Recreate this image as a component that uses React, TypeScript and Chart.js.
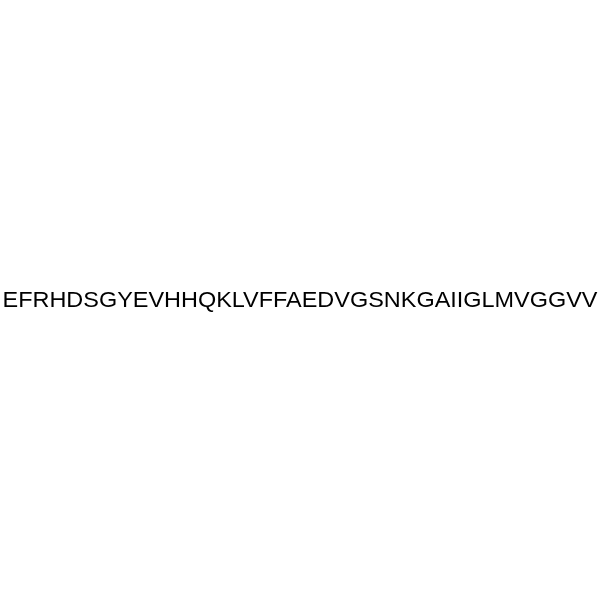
import { useRef, useEffect } from 'react';
import Chart from 'chart.js/auto';

// ── Data ──

const residues = [
  'E', 'F', 'R', 'H', 'D', 'S', 'G', 'Y', 'E', 'V',
  'H', 'H', 'Q', 'K', 'L', 'V', 'F', 'F', 'A', 'E',
  'D', 'V', 'G', 'S', 'N', 'K', 'G', 'A', 'I', 'I',
  'G', 'L', 'M', 'V', 'G', 'G', 'V', 'V',
];
const sequenceLabel = [residues.join('')];

// ── Sequence text plugin ──

const sequencePlugin = {
  id: 'sequenceText',
  afterDraw(chart: Chart) {
    const { ctx, width } = chart;
    ctx.save();
    ctx.fillStyle = '#000000';
    ctx.font = '22px "Liberation Sans", Arial, sans-serif';
    ctx.textAlign = 'center';
    ctx.textBaseline = 'alphabetic';
    // stretch slightly so the sequence spans the full width, like the reference
    const textWidth = ctx.measureText(sequenceLabel[0]).width;
    const sx = 595 / textWidth;
    ctx.translate(width / 2, 307);
    ctx.scale(sx, 1);
    ctx.fillText(sequenceLabel[0], 0, 0);
    ctx.restore();
  },
};

export default function App() {
  const canvasRef = useRef<HTMLCanvasElement>(null);
  const chartRef = useRef<Chart | null>(null);

  useEffect(() => {
    document.body.style.margin = '0';
    if (!canvasRef.current) return;
    const ctx = canvasRef.current.getContext('2d');
    if (!ctx) return;

    if (chartRef.current) {
      chartRef.current.destroy();
    }

    chartRef.current = new Chart(ctx, {
      type: 'bar',
      data: {
        labels: sequenceLabel,
        datasets: [{ data: [], backgroundColor: 'transparent' }],
      },
      options: {
        responsive: false,
        animation: false,
        layout: { padding: 0 },
        plugins: {
          legend: { display: false },
          tooltip: { enabled: false },
        },
        scales: {
          x: { display: false },
          y: { display: false },
        },
      },
      plugins: [sequencePlugin],
    });

    return () => {
      if (chartRef.current) {
        chartRef.current.destroy();
        chartRef.current = null;
      }
    };
  }, []);

  return (
    <div style={{ width: 600, height: 600, background: '#ffffff' }}>
      <canvas ref={canvasRef} width={600} height={600} />
    </div>
  );
}
